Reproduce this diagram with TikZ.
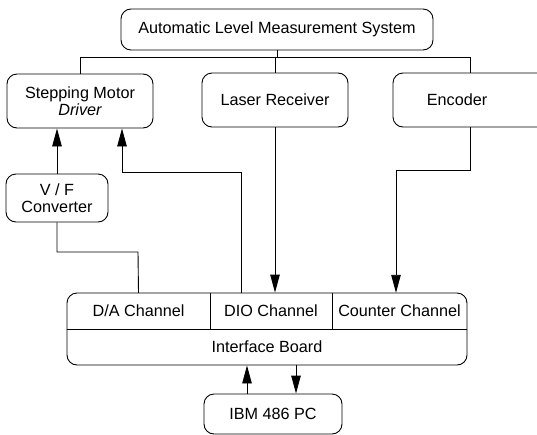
\documentclass[tikz,border=0pt]{standalone}
\usepackage{fontspec}
\setmainfont{Liberation Sans}
\usetikzlibrary{arrows.meta,calc}
\begin{document}
\begin{tikzpicture}[x=1pt,y=-1pt,
  every node/.style={font=\fontsize{16.2}{17.5}\selectfont, inner sep=0pt},
  rbox/.style={draw, line width=0.9pt, rounded corners=10pt, align=center},
  cell/.style={minimum height=36pt, align=center},
  conn/.style={line width=0.9pt},
  arr/.style={conn, -{Triangle[length=18pt,width=9.5pt]}}]
\useasboundingbox (0,0) rectangle (537,434);
\clip (0,0) rectangle (537,434);
% boxes
\node[rbox, minimum width=312pt, minimum height=41pt] (top) at (277,29.5) {Automatic Level Measurement System};
\node[rbox, minimum width=146pt, minimum height=54pt] (smd) at (80,101) {Stepping Motor\\\itshape Driver};
\node[rbox, minimum width=146pt, minimum height=54pt] (laser) at (275,100) {Laser Receiver};
\node[rbox, minimum width=154pt, minimum height=54pt] (enc) at (470,100) {Encoder\hspace*{26pt}};
\node[rbox, minimum width=102pt, minimum height=48pt] (vf) at (57,198) {V / F\\Converter};
\node[rbox, minimum width=400pt, minimum height=72pt] (board) at (267,329) {};
\node[cell, minimum width=143pt] (da) at (138.5,311) {D/A Channel};
\node[cell, minimum width=122pt] (dio) at (271,311) {DIO Channel};
\node[cell, minimum width=135pt] (cnt) at (399.5,311) {Counter Channel};
\node[minimum width=400pt, minimum height=36pt] (ib) at (267,347) {Interface Board};
\node[rbox, minimum width=138pt, minimum height=40pt] (pc) at (273,414) {IBM 486 PC};
% board dividers
\draw[conn] (board.west |- da.south) -- (board.east |- da.south);
\draw[conn] (da.north east) -- (da.south east);
\draw[conn] (dio.north east) -- (dio.south east);
% top bus
\coordinate (bus) at (0,57);
\draw[conn] (top.south) -- (top.south |- bus);
\draw[conn] (smd.north) |- (enc.north |- bus) -- (enc.north);
\draw[conn] (laser.north) -- (laser.north |- bus);
% connectors
\draw[arr] (vf.north) -- (vf.north |- smd.south);
\draw[arr] ([xshift=-30pt]dio.north) |- (122,172) -- ([xshift=42pt]smd.south);
\draw[conn] (vf.south) |- (138,252) -- (da.north);
\draw[arr] (laser.south) -- (laser.south |- board.north);
\draw[arr] (enc.south) |- (396,170) -- ([xshift=-3.5pt]cnt.north);
\draw[arr] ([xshift=-26pt]pc.north) -- ([xshift=-26pt]pc.north |- board.south);
\draw[arr] ([xshift=23pt]pc.north |- board.south) -- ([xshift=23pt]pc.north);
\end{tikzpicture}
\end{document}
